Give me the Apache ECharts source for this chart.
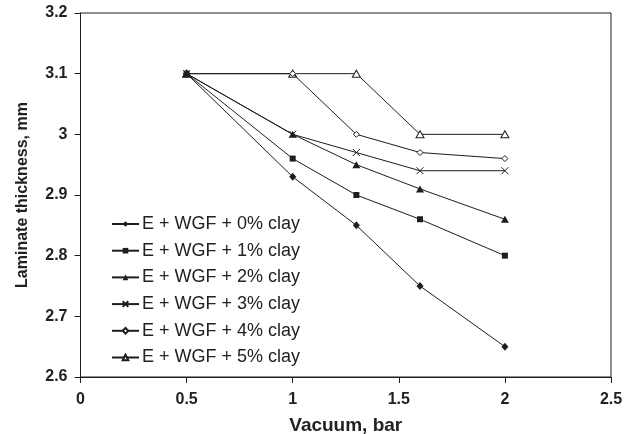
<!DOCTYPE html>
<html>
<head>
<meta charset="utf-8">
<script src="https://cdn.jsdelivr.net/npm/echarts@6/dist/echarts.min.js"></script>
<style>html,body{margin:0;padding:0;background:#fff}#c{width:630px;height:434px}</style>
</head>
<body>
<div id="c"></div>
<script>
const xValues = [0.5, 1, 1.3, 1.6, 2];
const seriesNames = ['E + WGF + 0% clay','E + WGF + 1% clay','E + WGF + 2% clay','E + WGF + 3% clay','E + WGF + 4% clay','E + WGF + 5% clay'];
const clay0 = [3.10, 2.93, 2.85, 2.75, 2.65];
const clay1 = [3.10, 2.96, 2.90, 2.86, 2.80];
const clay2 = [3.10, 3.00, 2.95, 2.91, 2.86];
const clay3 = [3.10, 3.00, 2.97, 2.94, 2.94];
const clay4 = [3.10, 3.10, 3.00, 2.97, 2.96];
const clay5 = [3.10, 3.10, 3.10, 3.00, 3.00];
const allValues = [clay0, clay1, clay2, clay3, clay4, clay5];

const ink = '#1e1e1e';
const FONT = '"Liberation Sans", Arial, sans-serif';
const markers = [
  {symbol:'diamond', size:[7,8], style:{color:ink}},
  {symbol:'rect', size:6, style:{color:ink}},
  {symbol:'triangle', size:[8,7], style:{color:ink}},
  {symbol:'path://M0,0L10,10M10,0L0,10', size:7, style:{color:'none', borderColor:ink, borderWidth:1}},
  {symbol:'diamond', size:[6,6], style:{color:'#fff', borderColor:ink, borderWidth:1}},
  {symbol:'triangle', size:[8,7], style:{color:'#fff', borderColor:ink, borderWidth:1}}
];

const series = allValues.map((vals, i) => ({
  name: seriesNames[i],
  type: 'line',
  data: xValues.map((x, j) => [x, vals[j]]),
  symbol: markers[i].symbol,
  symbolSize: markers[i].size,
  showAllSymbol: true,
  itemStyle: Object.assign({}, markers[i].style),
  lineStyle: {color: ink, width: 1},
  z: 10 - i,
  animation: false
}));

const chart = echarts.init(document.getElementById('c'), null, {renderer:'canvas'});
chart.setOption({
  animation: false,
  backgroundColor: '#fff',
  textStyle: {fontFamily: FONT},
  grid: {left: 80.5, top: 13, right: 19, bottom: 57, show: true, borderColor: ink, borderWidth: 1,
    containLabel: false, outerBoundsMode: 'none'},
  legend: {
    orient: 'vertical', left: 106, top: 209,
    itemWidth: 27, itemHeight: 7, itemGap: 6.7,
    textStyle: {fontFamily: FONT, fontSize: 18, color: '#222', lineHeight: 20, padding:[0,0,0,-2]},
    data: seriesNames
  },
  xAxis: {
    type: 'value', min: 0, max: 2.5, interval: 0.5,
    name: 'Vacuum, bar', nameLocation: 'middle', nameGap: 39,
    nameTextStyle: {fontFamily: FONT, fontSize: 19, fontWeight: 'bold', color: '#222'},
    axisLine: {lineStyle: {color: ink, width: 1}},
    axisTick: {show: true, length: 6, inside: false, lineStyle: {color: ink}},
    axisLabel: {fontFamily: FONT, fontSize: 16, fontWeight: 'bold', color: '#222', margin: 15},
    splitLine: {show: false}
  },
  yAxis: {
    type: 'value', min: 2.6, max: 3.2, interval: 0.1,
    name: 'Laminate thickness, mm', nameLocation: 'middle', nameGap: 50,
    nameTextStyle: {fontFamily: FONT, fontSize: 16, fontWeight: 'bold', color: '#222'},
    axisLine: {lineStyle: {color: ink, width: 1}},
    axisTick: {show: true, length: 6, inside: false, lineStyle: {color: ink}},
    axisLabel: {fontFamily: FONT, fontSize: 16, fontWeight: 'bold', color: '#222', margin: 13,
      formatter: v => String(Math.round(v*10)/10)},
    splitLine: {show: false}
  },
  series: series
});
</script>
</body>
</html>
